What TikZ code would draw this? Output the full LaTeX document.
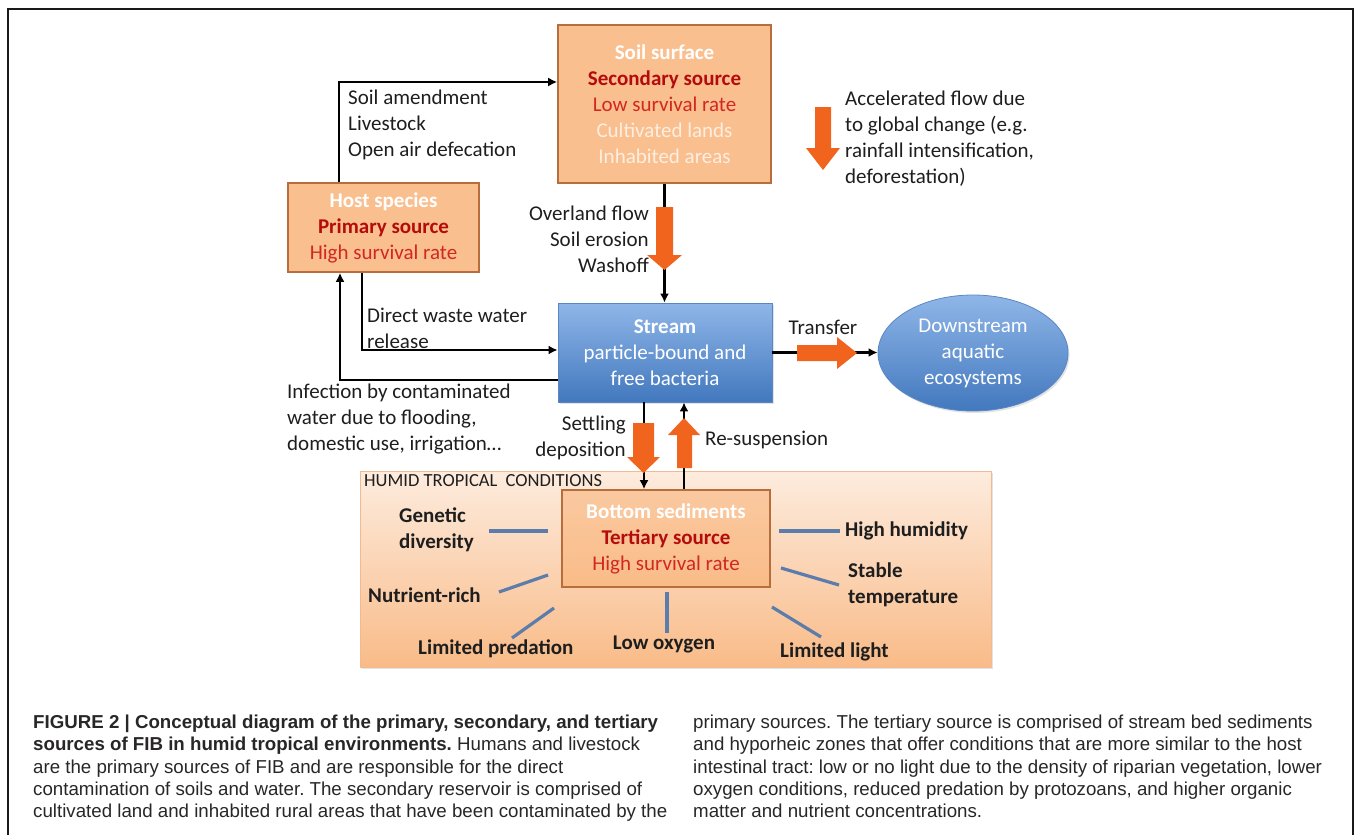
\documentclass[tikz,border=0pt]{standalone}
\usepackage{fontspec}
\setmainfont{Carlito}
\newfontfamily\capfont{Liberation Sans}
\usetikzlibrary{arrows.meta,shapes.geometric,calc,shadows}
\frenchspacing
\definecolor{orfill}{RGB}{240,100,30}
\definecolor{orbg}{RGB}{249,191,143}
\definecolor{orbrd}{RGB}{184,110,60}
\definecolor{humtop}{RGB}{253,236,222}
\definecolor{humbot}{RGB}{249,187,136}
\definecolor{humbrd}{RGB}{242,186,146}
\definecolor{bluetop}{RGB}{143,182,232}
\definecolor{bluebot}{RGB}{66,120,190}
\definecolor{bluebrd}{RGB}{90,135,195}
\definecolor{condblue}{RGB}{92,124,172}
\definecolor{txt}{RGB}{30,30,30}
\definecolor{captxt}{RGB}{40,38,38}
\definecolor{dkred}{RGB}{180,12,12}
\definecolor{ltred}{RGB}{210,40,34}
\definecolor{paleor}{RGB}{253,238,224}
\tikzset{
  lbl/.style={font=\fontsize{21}{26}\selectfont, text=txt, inner sep=0pt},
  blbl/.style={lbl, font=\fontsize{21}{26}\selectfont\bfseries},
  softshadow/.style={drop shadow={opacity=0.22, shadow xshift=1.5pt, shadow yshift=-2pt}},
  orbox/.style={draw=orbrd, line width=1.6pt, fill=orbg, inner sep=0pt, align=center,
    font=\fontsize{21}{26}\selectfont},
  sedbox/.style={orbox, fill=none, top color=orbg!85!white, bottom color=orbg!95!orange},
  bluebox/.style={draw=bluebrd, line width=0.8pt, top color=bluetop, bottom color=bluebot,
    inner sep=0pt, align=center, text=white, font=\fontsize{21}{26}\selectfont, softshadow},
  humidbox/.style={draw=humbrd, line width=1pt, top color=humtop, bottom color=humbot, inner sep=0pt, softshadow},
  conn/.style={line width=2.6pt, draw=black},
  arr/.style={conn, -{Latex[length=9pt,width=9pt]}},
  cond/.style={line width=3.2pt, draw=condblue},
  orarr/.style={fill=orfill},
  frame/.style={line width=2.8pt, draw=black!90},
  caption/.style={anchor=north west, inner sep=0pt, align=left, text=captxt,
    font=\capfont\fontsize{18.7}{22.2}\selectfont},
}
\begin{document}
\begin{tikzpicture}[x=1pt,y=-1pt]
\useasboundingbox (0,0) rectangle (1357,835);
% frame
\draw[frame] (8,836) -- (8,9) -- (1353,9) -- (1353,836);

% humid tropical region
\node[humidbox, minimum width=631pt, minimum height=196pt] (humid) at (675.5,569) {};
\node[lbl, font=\fontsize{18.5}{22}\selectfont, anchor=west] (humidlbl) at (364,481) {HUMID TROPICAL\ \ CONDITIONS};

% boxes
\node[orbox, minimum width=213pt, minimum height=158pt] (soil) at (664.5,104)
  {\textbf{\textcolor{white}{Soil surface}}\\
   \textbf{\textcolor{dkred}{Secondary source}}\\
   \textcolor{ltred}{Low survival rate}\\
   \textcolor{paleor}{Cultivated lands}\\
   \textcolor{paleor}{Inhabited areas}};
\node[orbox, minimum width=191pt, minimum height=89pt] (host) at (383.5,227.5)
  {\textbf{\textcolor{white}{Host species}}\\
   \textbf{\textcolor{dkred}{Primary source}}\\
   \textcolor{ltred}{High survival rate}};
\node[bluebox, minimum width=214pt, minimum height=99pt] (stream) at (665,352.5)
  {\textbf{Stream}\\particle-bound and\\free bacteria};
\node[bluebox, ellipse, minimum width=190pt, minimum height=116pt] (down) at (973,353)
  {Downstream\\aquatic\\ecosystems};
\node[sedbox, minimum width=208pt, minimum height=97pt] (sed) at (666,538.5)
  {\textbf{\textcolor{white}{Bottom sediments}}\\
   \textbf{\textcolor{dkred}{Tertiary source}}\\
   \textcolor{ltred}{High survival rate}};

% connectors
\coordinate (kA) at (339,82);
\coordinate (kB) at (362,350);
\coordinate (kC) at (340,380);
\coordinate (kD) at (644,0);
\coordinate (kE) at (684,0);
\draw[arr] (host.north -| kA) -- (kA) -- (soil.west |- kA);
\draw[arr] (soil.south) -- (soil.south |- stream.north);
\draw[arr] (host.south -| kB) -- (kB) -- (stream.west |- kB);
\draw[arr] (stream.west |- kC) -- (kC) -- (host.south -| kC);
\draw[arr] (stream.east) -- (stream.east -| down.west);
\draw[arr] (stream.south -| kD) -- (sed.north -| kD);
\draw[arr] (sed.north -| kE) -- (stream.south -| kE);

% orange block arrows
\fill[orarr] (656,207) -- (673,207) -- (673,255) -- (682,255) -- (664.5,270) -- (647,255) -- (656,255) -- cycle;
\fill[orarr] (815,107) -- (831,107) -- (831,148) -- (840,148) -- (823,170) -- (806,148) -- (815,148) -- cycle;
\fill[orarr] (797,345) -- (837,345) -- (837,337) -- (857,353) -- (837,369) -- (837,361) -- (797,361) -- cycle;
\fill[orarr] (633,423) -- (654,423) -- (654,457) -- (660,457) -- (643.5,473) -- (627,457) -- (633,457) -- cycle;
\fill[orarr] (677,468) -- (692,468) -- (692,435) -- (700,435) -- (684,418) -- (668,435) -- (677,435) -- cycle;

% labels
\node[lbl, anchor=west, align=left] (la) at (348,125) {Soil amendment\\Livestock\\Open air defecation};
\node[lbl, anchor=east, align=right] (lb) at (649,239) {Overland flow\\Soil erosion\\Washoff};
\node[lbl, anchor=west, align=left] (lc) at (367,328) {Direct waste water\\release};
\node[lbl, anchor=west, align=left] (ld) at (287,419) {Infection by contaminated\\water due to flooding,\\domestic use, irrigation…};
\node[lbl, anchor=east, align=right] (le) at (626,437.5) {Settling\\deposition};
\node[lbl, anchor=west] (lf) at (705,440) {Re-suspension};
\node[lbl] (lg) at (823,327) {Transfer};
\node[lbl, anchor=west, align=left] (lh) at (845,138.5) {Accelerated flow due\\to global change (e.g.\\rainfall intensification,\\deforestation)};

% conditions
\draw[cond] (489,531) -- (548,531);
\draw[cond] (779,531) -- (840,531);
\draw[cond] (781,568) -- (839,585);
\draw[cond] (548,575) -- (499,592);
\draw[cond] (554,608) -- (512,638);
\draw[cond] (667,592) -- (667,633);
\draw[cond] (772,607) -- (821,637);
\node[blbl, anchor=west, align=left] (c1) at (399,530) {Genetic\\diversity};
\node[blbl, anchor=west] (c2) at (845,531) {High humidity};
\node[blbl, anchor=west, align=left] (c3) at (848,584.5) {Stable\\temperature};
\node[blbl, anchor=west] (c4) at (368,595) {Nutrient-rich};
\node[blbl, anchor=west] (c5) at (418,649) {Limited predation};
\node[blbl] (c6) at (664,644) {Low oxygen};
\node[blbl, anchor=west] (c7) at (780,652) {Limited light};

% caption
\node[caption] (capL) at (33,715) {\textbf{FIGURE 2 | Conceptual diagram of the primary, secondary, and tertiary}\\
\textbf{sources of FIB in humid tropical environments.} Humans and livestock\\
are the primary sources of FIB and are responsible for the direct\\
contamination of soils and water. The secondary reservoir is comprised of\\
cultivated land and inhabited rural areas that have been contaminated by the};
\node[caption] (capR) at (693,715) {primary sources. The tertiary source is comprised of stream bed sediments\\
and hyporheic zones that offer conditions that are more similar to the host\\
intestinal tract: low or no light due to the density of riparian vegetation, lower\\
oxygen conditions, reduced predation by protozoans, and higher organic\\
matter and nutrient concentrations.};
\end{tikzpicture}
\end{document}
